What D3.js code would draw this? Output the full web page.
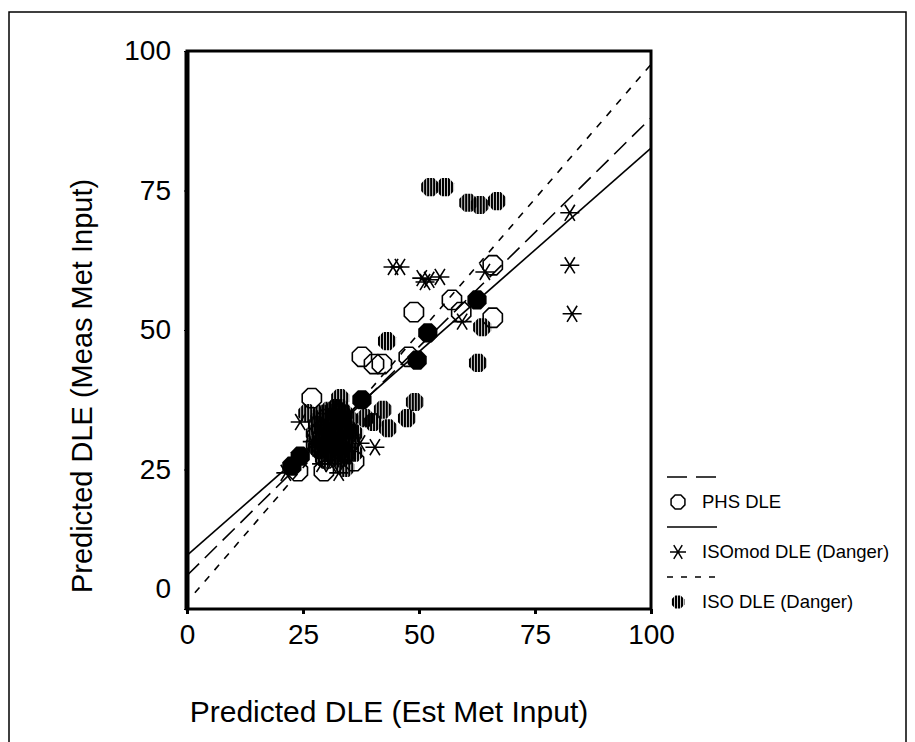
<!DOCTYPE html>
<html>
<head>
<meta charset="utf-8">
<script src="https://cdn.jsdelivr.net/npm/d3@7"></script>
<style>
  body { margin: 0; background: #fff; }
  text { font-family: Arial, "Liberation Sans", sans-serif; fill: #000; }
</style>
</head>
<body>
<div id="chart"></div>
<script>
// tick values for both axes
const ticks = [0, 25, 50, 75, 100];

// PHS DLE points (open octagons)  [est, meas]
const phsPts = [
  [26.9, 37.8], [48.9, 53.2], [37.7, 45.2], [40.3, 43.9], [42.0, 43.9], [47.8, 45.2],
  [57.1, 55.4], [59.1, 53.2], [65.9, 61.6], [65.9, 52.2], [23.9, 24.7], [29.5, 24.7],
  [29, 32], [31, 30], [33, 31], [30, 34], [34, 28], [32, 33], [35, 30], [28, 31],
  [30, 27], [33, 35], [36, 26.5]
];

// ISOmod DLE (Danger) points (asterisks)
const isoModPts = [
  [44.4, 61.3], [45.9, 61.3], [50.6, 59.3], [51.3, 58.6], [52.2, 59.0], [54.5, 59.5],
  [82.5, 71.0], [82.5, 61.6], [83.0, 52.9], [64.2, 60.4], [59.3, 51.5],
  [40.5, 29.0], [37.3, 29.7], [24.4, 33.5], [21.3, 24.4], [32.7, 24.4],
  [30, 33], [32, 31], [29, 29], [34, 33], [31, 35], [33, 29], [35, 29], [27, 30],
  [29, 26], [31, 26]
];

// ISO DLE (Danger) points (hatched octagons)
const isoPts = [
  [52.4, 75.6], [55.6, 75.6], [60.6, 72.8], [63.1, 72.4], [66.8, 73.1],
  [63.6, 50.5], [62.7, 44.1], [43.1, 48.0], [49.1, 37.1], [47.4, 34.2], [42.2, 35.7],
  [40.1, 33.5], [38.4, 34.2], [43.3, 32.4], [33.0, 37.8], [25.9, 35.1], [34.1, 25.3],
  [28, 33], [29, 35], [30, 31], [31, 34], [32, 36], [33, 33], [34, 30], [30, 28],
  [32, 29], [35, 32], [36, 28], [29, 30], [31, 31], [33, 27], [34, 35], [31, 28], [28, 29],
  [27.5, 31.5], [28.5, 34], [29.5, 32.5], [30.5, 35.5], [31.5, 33], [32.5, 31.5],
  [33.5, 34], [34.5, 32.5], [35.5, 30.5], [28.5, 28.5], [30, 29.5], [31.5, 27.5],
  [33, 28.5], [34.5, 27.5], [29, 31], [32, 30], [30.5, 32], [33, 36], [35, 34],
  [27.5, 29.5], [32, 34.5], [31, 30.5], [33.5, 30.5], [29.5, 27], [36, 31.5]
];

// points where the three series coincide (drawn solid)
const overlapPts = [
  [22.6, 25.6], [24.4, 27.4], [37.7, 37.5], [49.6, 44.6], [51.9, 49.5], [62.5, 55.4]
];

// fitted lines: [x0, y0, x1, y1]
const phsFit = [0, 6.0, 100, 88.0];
const isoModFit = [0, 9.6, 100, 82.6];
const isoFit = [1.7, 2.9, 100, 97.6];

const legendItems = [
  {label: "PHS DLE", dash: "20,9", mark: "open"},
  {label: "ISOmod DLE (Danger)", dash: null, mark: "star"},
  {label: "ISO DLE (Danger)", dash: "6,8", mark: "hatch"}
];

const W = 915, H = 742;
const plot = {left: 187, top: 51, right: 651, bottom: 609};

let svg = d3.select("#chart").append("svg")
  .attr("width", W)
  .attr("height", H);

svg.append("rect").attr("width", W).attr("height", H).attr("fill", "#fff");

// outer border (bottom edge is cut off in the original)
svg.append("path")
  .attr("d", `M9,${H + 5}V12H906V${H + 5}`)
  .attr("fill", "none")
  .attr("stroke", "#000")
  .attr("stroke-width", 1.5);

// hatch pattern for ISO markers
let defs = svg.append("defs");
let pat = defs.append("pattern")
  .attr("id", "hatch")
  .attr("patternUnits", "userSpaceOnUse")
  .attr("width", 3)
  .attr("height", 4);
pat.append("rect").attr("x", 0).attr("y", 0).attr("width", 2.2).attr("height", 4).attr("fill", "#000");

let x = d3.scaleLinear().domain([0, 100]).range([plot.left, plot.right]);
let y = d3.scaleLinear().domain([0, 100]).range([plot.bottom, plot.top]);

// octagon path, flat top
function octagon(r) {
  let pts = d3.range(8).map(i => {
    let a = Math.PI / 8 + i * Math.PI / 4;
    return [r * Math.cos(a), r * Math.sin(a)];
  });
  return "M" + pts.map(p => p.join(",")).join("L") + "Z";
}

// six-armed star
function star(r) {
  let d = "";
  [0, 58, -58].forEach(deg => {
    let a = deg * Math.PI / 180;
    let dx = r * Math.cos(a), dy = r * Math.sin(a);
    d += `M${-dx},${-dy}L${dx},${dy}`;
  });
  return d;
}

const R = 10.4;

function drawMark(g, type) {
  if (type === "open") {
    g.append("path").attr("d", octagon(R)).attr("fill", "none").attr("stroke", "#000").attr("stroke-width", 1.6);
  } else if (type === "hatch") {
    g.append("path").attr("d", octagon(R - 0.6)).attr("fill", "url(#hatch)").attr("stroke", "none");
  } else if (type === "star") {
    g.append("path").attr("d", star(9.5)).attr("fill", "none").attr("stroke", "#000").attr("stroke-width", 1.6);
  } else if (type === "solid") {
    g.append("path").attr("d", octagon(R)).attr("fill", "#000").attr("stroke", "none");
  }
}

let plotG = svg.append("g");

// regression lines
let fits = [
  {f: phsFit, dash: "17,8"},
  {f: isoModFit, dash: null},
  {f: isoFit, dash: "7,8"}
];
plotG.selectAll(".fit")
  .data(fits)
  .enter().append("line")
  .attr("class", "fit")
  .attr("x1", d => x(d.f[0]))
  .attr("y1", d => y(d.f[1]))
  .attr("x2", d => x(d.f[2]))
  .attr("y2", d => y(d.f[3]))
  .attr("stroke", "#000")
  .attr("stroke-width", 1.6)
  .attr("stroke-dasharray", d => d.dash);

// markers
let series = [
  {pts: phsPts, mark: "open"},
  {pts: isoPts, mark: "hatch"},
  {pts: isoModPts, mark: "star"},
  {pts: overlapPts, mark: "solid"}
];
series.forEach(s => {
  plotG.selectAll(null)
    .data(s.pts)
    .enter().append("g")
    .attr("transform", d => `translate(${x(d[0])},${y(d[1])})`)
    .each(function () { drawMark(d3.select(this), s.mark); });
});

// plot frame
svg.append("rect")
  .attr("x", plot.left).attr("y", plot.top)
  .attr("width", plot.right - plot.left).attr("height", plot.bottom - plot.top)
  .attr("fill", "none").attr("stroke", "#000").attr("stroke-width", 3);
svg.append("line")
  .attr("x1", plot.left).attr("x2", plot.left)
  .attr("y1", plot.top).attr("y2", plot.bottom)
  .attr("stroke", "#000").attr("stroke-width", 5);

// x axis
let xAxis = svg.append("g")
  .attr("transform", `translate(0,${plot.bottom})`)
  .call(d3.axisBottom(x).tickValues(ticks).tickSize(5).tickPadding(10));
xAxis.select(".domain").remove();
xAxis.selectAll(".tick line").attr("stroke-width", 3);
xAxis.selectAll("text").attr("font-size", 28).attr("font-family", "Arial, 'Liberation Sans', sans-serif");

// y axis
let yAxis = svg.append("g")
  .attr("transform", `translate(${plot.left},0)`)
  .call(d3.axisLeft(y).tickValues(ticks).tickSize(3).tickPadding(13));
yAxis.select(".domain").remove();
yAxis.selectAll("text").attr("font-size", 28).attr("font-family", "Arial, 'Liberation Sans', sans-serif")
  .attr("dy", d => d === 0 ? "-0.4em" : "0.32em");

// axis titles
svg.append("text")
  .attr("x", 389).attr("y", 722)
  .attr("text-anchor", "middle")
  .attr("font-size", 30)
  .text("Predicted DLE (Est Met Input)");
svg.append("text")
  .attr("transform", "translate(92,386) rotate(-90)")
  .attr("text-anchor", "middle")
  .attr("font-size", 29)
  .text("Predicted DLE (Meas Met Input)");

// legend
let leg = svg.append("g").attr("transform", "translate(667,477)");
legendItems.forEach((d, i) => {
  let gy = i * 50;
  leg.append("line")
    .attr("x1", 0).attr("x2", 50).attr("y1", gy).attr("y2", gy)
    .attr("stroke", "#000").attr("stroke-width", 1.6)
    .attr("stroke-dasharray", d.dash);
  let mg = leg.append("g").attr("transform", `translate(11,${gy + 25})`);
  if (d.mark === "open") {
    mg.append("path").attr("d", octagon(7.5)).attr("fill", "none").attr("stroke", "#000").attr("stroke-width", 1.5);
  } else if (d.mark === "star") {
    mg.append("path").attr("d", star(8)).attr("fill", "none").attr("stroke", "#000").attr("stroke-width", 1.5);
  } else {
    mg.append("path").attr("d", octagon(7)).attr("fill", "url(#hatch)");
  }
  leg.append("text")
    .attr("x", 35).attr("y", gy + 25)
    .attr("dy", "0.35em")
    .attr("font-size", 18.5)
    .text(d.label);
});
</script>
</body>
</html>
